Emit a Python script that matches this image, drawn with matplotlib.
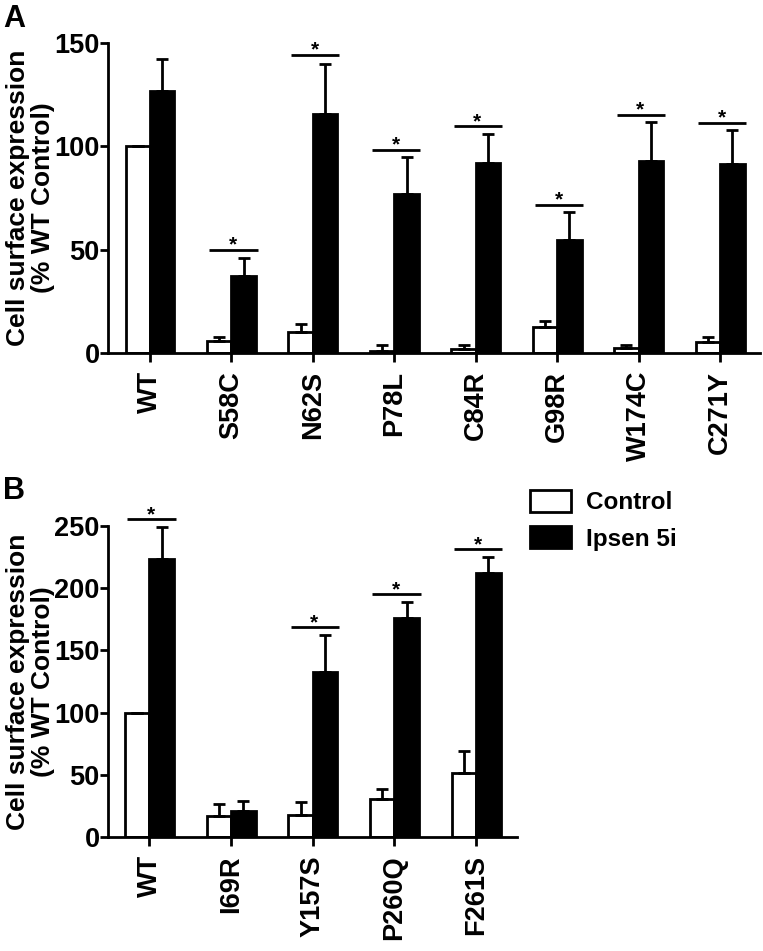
import numpy as np
import matplotlib
matplotlib.use("Agg")
import matplotlib.pyplot as plt

plt.rcParams['font.family'] = ['Liberation Sans', 'DejaVu Sans']
plt.rcParams['font.weight'] = 'bold'

# ---------------- data ----------------
cats_a = ["WT", "S58C", "N62S", "P78L", "C84R", "G98R", "W174C", "C271Y"]
ctrl_a = [100, 5.6, 10.2, 1.0, 1.6, 12.6, 2.1, 5.0]
ctrl_a_err = [0, 1.8, 3.5, 2.7, 2.1, 2.9, 1.6, 2.4]
ips_a = [126.8, 37.3, 115.8, 76.8, 91.9, 54.5, 92.7, 91.6]
ips_a_err = [15.6, 8.8, 24.2, 18.0, 14.2, 13.7, 19.1, 16.4]
sig_a = [np.nan, 49.7, 144.4, 98.5, 109.8, 71.8, 115.3, 111.3]
yticks_a = [0, 50, 100, 150]

cats_b = ["WT", "I69R", "Y157S", "P260Q", "F261S"]
ctrl_b = [100, 17.1, 18.2, 30.5, 51.9]
ctrl_b_err = [0, 9.4, 10.4, 8.0, 17.4]
ips_b = [223.3, 21.1, 132.9, 176.2, 212.3]
ips_b_err = [25.4, 8.3, 29.4, 12.8, 12.3]
sig_b = [255.1, np.nan, 168.4, 194.9, 231.0]
yticks_b = [0, 50, 100, 150, 200, 250]

series_names = ["Control", "Ipsen 5i"]
ylabel = "Cell surface expression\n(% WT Control)"

W, H = 763, 951
fig = plt.figure(figsize=(W / 100, H / 100), dpi=100)

LW = 2.0
BW = 0.3


def px_rect(x0, x1, ytop, ybot):
    return [x0 / W, 1 - ybot / H, (x1 - x0) / W, (ybot - ytop) / H]


def panel(rect, cats, ctrl, ctrl_err, ips, ips_err, sig, yticks, xlim, label_x):
    ax = fig.add_axes(rect)
    x = np.arange(len(cats))
    bc = ax.bar(x - BW, ctrl, width=BW, align='edge', color='white',
                edgecolor='black', linewidth=LW, zorder=2, label=series_names[0])
    bi = ax.bar(x, ips, width=BW, align='edge', color='black',
                edgecolor='black', linewidth=LW, zorder=2, label=series_names[1])
    ax.errorbar(x - BW / 2, ctrl, yerr=[np.zeros(len(x)), ctrl_err], fmt='none',
                ecolor='black', elinewidth=LW, capsize=4.6, capthick=LW, zorder=3)
    ax.errorbar(x + BW / 2, ips, yerr=[np.zeros(len(x)), ips_err], fmt='none',
                ecolor='black', elinewidth=LW, capsize=4.6, capthick=LW, zorder=3)
    for xi, s in zip(x, sig):
        if np.isnan(s):
            continue
        ax.plot([xi - 0.27, xi + 0.32], [s, s], color='black', lw=LW,
                clip_on=False, zorder=3, solid_capstyle='butt')
        ax.annotate("*", xy=(xi + 0.02, s), xytext=(0, -0.5),
                    textcoords='offset points', ha='center', va='baseline',
                    fontsize=15, fontweight='bold', annotation_clip=False)
    ax.set_xlim(*xlim)
    ax.set_ylim(yticks[0], yticks[-1])
    ax.set_yticks(yticks)
    ax.set_xticks(x)
    ax.set_xticklabels(cats, rotation=90, fontsize=19.5, fontweight='bold')
    ax.tick_params(axis='y', labelsize=19.5, length=5.5, width=LW, pad=0.5,
                   direction='out')
    ax.tick_params(axis='x', length=6.5, width=LW, pad=6.5, direction='out')
    for lab in ax.get_yticklabels():
        lab.set_fontweight('bold')
    for sp in ['top', 'right']:
        ax.spines[sp].set_visible(False)
    for sp in ['left', 'bottom']:
        ax.spines[sp].set_linewidth(LW)
    ax.set_ylabel(ylabel, fontsize=19, fontweight='bold', linespacing=1.05)
    ax.yaxis.set_label_coords(label_x, 0.5)
    return ax, bc, bi


axA, bcA, biA = panel(px_rect(108, 760, 43.3, 352.7), cats_a, ctrl_a, ctrl_a_err,
                      ips_a, ips_a_err, sig_a, yticks_a, (-0.516, 7.49),
                      (55 - 108) / (760 - 108))
axB, bcB, biB = panel(px_rect(108, 517, 525.7, 837.3), cats_b, ctrl_b, ctrl_b_err,
                      ips_b, ips_b_err, sig_b, yticks_b, (-0.508, 4.5),
                      (55 - 108) / (517 - 108))

fig.text(3 / W, 1 - 4 / H, "A", fontsize=22, fontweight='bold', ha='left', va='top')
fig.text(3 / W, 1 - 476 / H, "B", fontsize=22, fontweight='bold', ha='left', va='top')

fig.legend([bcB, biB], series_names, loc='upper left',
           bbox_to_anchor=(530 / W, 1 - 490 / H), frameon=False,
           prop={'weight': 'bold', 'size': 17.5},
           handlelength=1.7, handleheight=1.0, handletextpad=0.6,
           labelspacing=0.5, borderpad=0, borderaxespad=0)

fig.savefig("out.png", dpi=100)
